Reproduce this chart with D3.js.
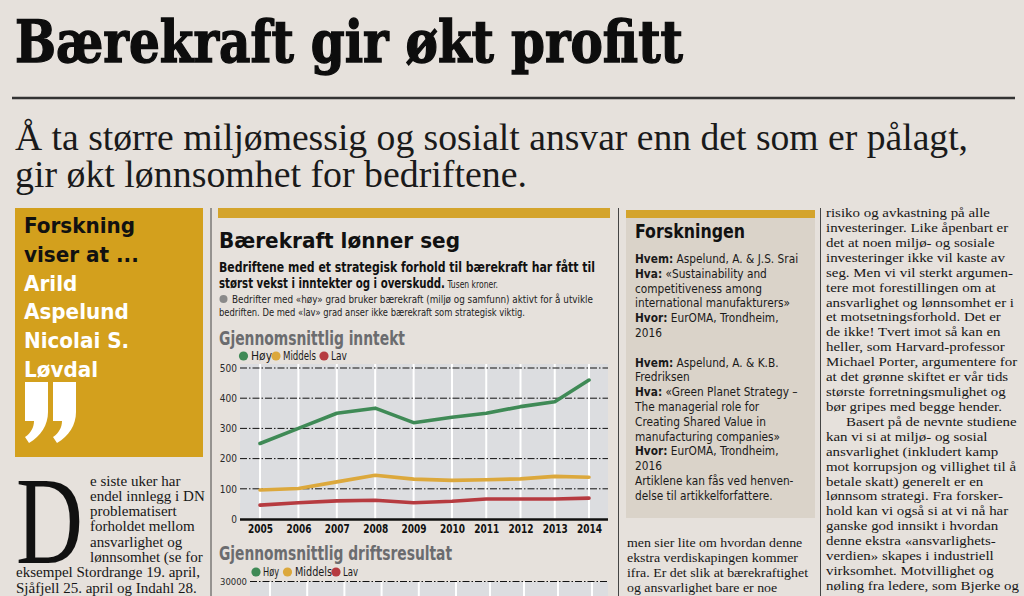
<!DOCTYPE html>
<html><head><meta charset="utf-8">
<script src="https://cdn.jsdelivr.net/npm/d3@7"></script>
<style>html,body{margin:0;padding:0;background:#e6e1dc;} svg{display:block}</style>
</head><body>
<svg id="c" width="1024" height="596"></svg>
<script>
// ---------- DATA ----------
const years = [2005, 2006, 2007, 2008, 2009, 2010, 2011, 2012, 2013, 2014];
const hoyInntekt     = [250, 300, 350, 367, 319, 337, 350, 372, 388, 460];
const middelsInntekt = [96, 101, 123, 145, 132, 128, 130, 133, 141, 138];
const lavInntekt     = [46, 54, 60, 62, 54, 59, 66, 66, 66, 69];
const inntektTicks = [0, 100, 200, 300, 400, 500];
const driftTicks = [30000];
const seriesNames = ["Høy", "Middels", "Lav"];

// ---------- TEXT ----------
const headline = "Bærekraft gir økt profitt";
const standfirst = ["Å ta større miljømessig og sosialt ansvar enn det som er pålagt,", "gir økt lønnsomhet for bedriftene."];
const boxLines = ["Forskning", "viser at ...", "Arild", "Aspelund", "Nicolai S.", "Løvdal"];
const chartTitle = "Bærekraft lønner seg";
const chartSub = ["Bedriftene med et strategisk forhold til bærekraft har fått til", "størst vekst i inntekter og i overskudd."];
const unitNote = "Tusen kroner.";
const noteLines = ["Bedrifter med «høy» grad bruker bærekraft (miljø og samfunn) aktivt for å utvikle", "bedriften. De med «lav» grad anser ikke bærekraft som strategisk viktig."];
const panel1Title = "Gjennomsnittlig inntekt";
const panel2Title = "Gjennomsnittlig driftsresultat";
const researchTitle = "Forskningen";
const researchLines = [
  "**Hvem:** Aspelund, A. & J.S. Srai",
  "**Hva:** «Sustainability and",
  "competitiveness among",
  "international manufakturers»",
  "**Hvor:** EurOMA, Trondheim,",
  "2016",
  "",
  "**Hvem:** Aspelund, A. & K.B.",
  "Fredriksen",
  "**Hva:** «Green Planet Strategy –",
  "The managerial role for",
  "Creating Shared Value in",
  "manufacturing companies»",
  "**Hvor:** EurOMA, Trondheim,",
  "2016",
  "Artiklene kan fås ved henven-",
  "delse til artikkelforfattere."
];
const dropCap = "D";
const leftDropLines = ["e siste uker har", "endel innlegg i DN", "problematisert", "forholdet mellom", "ansvarlighet og", "lønnsomhet (se for"];
const leftFullLines = ["eksempel Stordrange 19. april,", "Sjåfjell 25. april og Indahl 28."];
const midLines = ["men sier lite om hvordan denne", "ekstra verdiskapingen kommer", "ifra. Er det slik at bærekraftighet", "og ansvarlighet bare er noe"];
const rightLines = [
  "risiko og avkastning på alle",
  "investeringer. Like åpenbart er",
  "det at noen miljø- og sosiale",
  "investeringer ikke vil kaste av",
  "seg. Men vi vil sterkt argumen-",
  "tere mot forestillingen om at",
  "ansvarlighet og lønnsomhet er i",
  "et motsetningsforhold. Det er",
  "de ikke! Tvert imot så kan en",
  "heller, som Harvard-professor",
  "Michael Porter, argumentere for",
  "at det grønne skiftet er vår tids",
  "største forretningsmulighet og",
  "bør gripes med begge hender.",
  "Basert på de nevnte studiene",
  "kan vi si at miljø- og sosial",
  "ansvarlighet (inkludert kamp",
  "mot korrupsjon og villighet til å",
  "betale skatt) generelt er en",
  "lønnsom strategi. Fra forsker-",
  "hold kan vi også si at vi nå har",
  "ganske god innsikt i hvordan",
  "denne ekstra «ansvarlighets-",
  "verdien» skapes i industriell",
  "virksomhet. Motvillighet og",
  "nøling fra ledere, som Bjerke og"
];

// ---------- STYLE ----------
const colors = {Høy: "#3f8a56", Middels: "#dca83c", Lav: "#b63b40"};
const SANS_C = "'DejaVu Sans Condensed', 'DejaVu Sans', sans-serif";
const SERIF = "'Liberation Serif', 'DejaVu Serif', serif";
const SLAB = "'DejaVu Serif', serif";
const ochre = "#d4a42c";

const svg = d3.select("#c");
svg.append("rect").attr("width", 1024).attr("height", 596).attr("fill", "#e6e1dc");

function fit(t, w) { t.attr("textLength", w).attr("lengthAdjust", "spacingAndGlyphs"); return t; }
function addText(g, x, y, str, o) {
  const t = g.append("text").attr("x", x).attr("y", y)
    .attr("font-size", o.size).attr("font-family", o.family)
    .attr("font-weight", o.weight || "normal").attr("fill", o.fill || "#111");
  t.text(str);
  if (o.w) fit(t, o.w);
  return t;
}
// One <text> element holding many lines as tspans.
function richText(g, base, lines) {
  const t = g.append("text").attr("font-family", base.family).attr("font-size", base.size)
    .attr("font-weight", base.weight || "normal").attr("fill", base.fill || "#111")
    .attr("xml:space", "preserve");
  const all = lines.map(L => {
    const parts = [];
    L.str.split(/(\*\*[^*]+\*\*)/).filter(s => s).forEach((p, j) => {
      const bold = p.startsWith("**");
      const s = t.append("tspan").text(bold ? p.slice(2, -2) : p);
      if (j === 0 && !L.cont) s.attr("x", L.x).attr("y", L.y);
      if (L.size) s.attr("font-size", L.size);
      if (L.weight) s.attr("font-weight", L.weight);
      if (bold) s.attr("font-weight", "bold");
      if (L.fill) s.attr("fill", L.fill);
      parts.push(s);
    });
    return parts;
  });
  const nat = all.map(parts => parts.map(s => s.node().getComputedTextLength()));
  let f = 1;
  if (base.ref) f = base.ref.width / d3.sum(nat[base.ref.index]);
  all.forEach((parts, i) => {
    const tot = d3.sum(nat[i]);
    if (!tot) return;
    const ff = lines[i].w ? lines[i].w / tot : f;
    parts.forEach((s, j) => fit(s, nat[i][j] * ff));
  });
  return t;
}

// ---------- HEADER ----------
addText(svg, 15, 62, headline, {size: 58, family: SLAB, weight: "bold", fill: "#0d0d0d", w: 668})
  .attr("stroke", "#0d0d0d").attr("stroke-width", 1.4);
svg.append("line").attr("x1", 12).attr("x2", 1015).attr("y1", 98).attr("y2", 98).attr("stroke", "#333").attr("stroke-width", 2.5);
richText(svg, {family: SERIF, size: 38, fill: "#1a1a1a"}, [
  {x: 15, y: 150, str: standfirst[0], w: 953},
  {x: 15, y: 187, str: standfirst[1], w: 512}
]);

// ---------- SEPARATORS ----------
[211, 618.5, 820.5].forEach(x => svg.append("line").attr("x1", x).attr("x2", x).attr("y1", 208).attr("y2", 596).attr("stroke", "#444").attr("stroke-width", 1));

// ---------- LEFT BOX ----------
svg.append("rect").attr("x", 15).attr("y", 208).attr("width", 188).attr("height", 249).attr("fill", "#d3a01d");
richText(svg, {family: SANS_C, size: 22, weight: "bold", fill: "#111", ref: {index: 0, width: 111}},
  boxLines.map((s, i) => ({x: 24, y: 233 + i * 28.8, str: s, fill: i < 2 ? "#111" : "#fff"})));
[25, 53].forEach(x0 => {
  svg.append("path").attr("fill", "#fff")
    .attr("d", `M${x0},382 h23 v30 c0,13 -7,24 -19,31 l-4,-6 c6,-4 9,-10 9,-16 h-9 z`);
});

// ---------- LEFT BODY ----------
richText(svg, {family: SERIF, size: 13.6, fill: "#161616", ref: {index: 7, width: 184}},
  [{x: 16, y: 563, str: dropCap, size: 125, fill: "#111", w: 67}].concat(
    leftDropLines.concat(leftFullLines).map((s, i) => ({x: i < 6 ? 90 : 16, y: 485.5 + i * 15.3, str: s}))));

// ---------- CHART COLUMN ----------
svg.append("rect").attr("x", 218).attr("y", 208).attr("width", 392).attr("height", 10).attr("fill", ochre);
addText(svg, 219, 248, chartTitle, {size: 22, family: SANS_C, weight: "bold", fill: "#111", w: 241});
svg.append("circle").attr("cx", 223.5).attr("cy", 299).attr("r", 4).attr("fill", "#8a8a8a");
richText(svg, {family: SANS_C, size: 13.5, weight: "bold", fill: "#111"}, [
  {x: 219, y: 272, str: chartSub[0], w: 376},
  {x: 219, y: 288, str: chartSub[1], w: 226},
  {cont: true, str: " " + unitNote, size: 10, weight: "normal", fill: "#222", w: 53},
  {x: 232, y: 303, str: noteLines[0], size: 10.5, weight: "normal", fill: "#222", w: 361},
  {x: 219, y: 315.5, str: noteLines[1], size: 10.5, weight: "normal", fill: "#222", w: 306}
]);

function legend(cx, cy, textX, widths) {
  seriesNames.forEach((n, i) => {
    svg.append("circle").attr("cx", cx[i]).attr("cy", cy).attr("r", 4.6).attr("fill", colors[n]);
    addText(svg, textX[i], cy + 4, n, {size: 12, family: SANS_C, fill: "#1a1a1a", w: widths[i]});
  });
}

// Panel 1
addText(svg, 219, 345, panel1Title, {size: 19, family: SANS_C, weight: "bold", fill: "#6b6c6f", w: 186});
legend([243.5, 276, 324], 356, [251, 283, 331], [21, 33, 16]);

const x1 = d3.scaleLinear().domain([2005, 2010, 2014]).range([260, 452, 589]);
const y1 = d3.scaleLinear().domain([0, 500]).range([519, 368]);
const p1 = svg.append("g");
p1.append("rect").attr("x", 240).attr("y", 364).attr("width", 368).attr("height", 155).attr("fill", "#dcdde0");
p1.selectAll("line.v").data(years).join("line").attr("class", "v")
  .attr("x1", d => x1(d)).attr("x2", d => x1(d)).attr("y1", 364).attr("y2", 519)
  .attr("stroke", "#fff").attr("stroke-width", 2);
p1.selectAll("line.h").data(inntektTicks.filter(t => t > 0)).join("line").attr("class", "h")
  .attr("x1", 240).attr("x2", 608).attr("y1", d => y1(d)).attr("y2", d => y1(d))
  .attr("stroke", "#111").attr("stroke-width", 1).attr("stroke-dasharray", "7,2,1.5,2");
const yAx = p1.append("g").attr("transform", "translate(238,0)")
  .call(d3.axisLeft(y1).tickValues(inntektTicks).tickSize(0).tickPadding(1));
yAx.select(".domain").remove();
yAx.selectAll("text").attr("font-size", 10).attr("font-family", SANS_C).attr("fill", "#2a2a2a");
const xAx = p1.append("g").attr("transform", "translate(0,519)")
  .call(d3.axisBottom(x1).tickValues(years).tickFormat(d3.format("d")).tickSize(0).tickPadding(5));
xAx.select(".domain").remove();
xAx.selectAll("text").attr("font-size", 12).attr("font-weight", "bold").attr("font-family", SANS_C)
  .attr("fill", "#111").attr("textLength", 25).attr("lengthAdjust", "spacingAndGlyphs");
p1.append("line").attr("x1", 240).attr("x2", 608).attr("y1", 519.5).attr("y2", 519.5).attr("stroke", "#111").attr("stroke-width", 2.5);

const lineGen = d3.line().x((d, i) => x1(years[i])).y(d => y1(d));
[[hoyInntekt, "Høy"], [middelsInntekt, "Middels"], [lavInntekt, "Lav"]].forEach(([vals, n]) => {
  p1.append("path").datum(vals).attr("d", lineGen).attr("fill", "none")
    .attr("stroke", colors[n]).attr("stroke-width", 3.6).attr("stroke-linejoin", "round").attr("stroke-linecap", "round");
});

// Panel 2
addText(svg, 219, 560, panel2Title, {size: 19, family: SANS_C, weight: "bold", fill: "#6b6c6f", w: 233});
legend([256, 287.5, 336], 572, [263, 295, 343], [16, 37, 15]);
const x2 = d3.scaleLinear().domain([2005, 2010, 2014]).range([270, 456, 592]);
const y2 = d3.scaleLinear().domain([0, 30000]).range([733, 581.5]);
const p2 = svg.append("g");
p2.append("rect").attr("x", 250).attr("y", 582).attr("width", 358).attr("height", 20).attr("fill", "#dcdde0");
p2.selectAll("line.v").data(years).join("line").attr("class", "v")
  .attr("x1", d => x2(d)).attr("x2", d => x2(d)).attr("y1", 582).attr("y2", 600)
  .attr("stroke", "#fff").attr("stroke-width", 2);
p2.selectAll("line.h").data(driftTicks).join("line").attr("class", "h")
  .attr("x1", 250).attr("x2", 608).attr("y1", d => y2(d)).attr("y2", d => y2(d))
  .attr("stroke", "#111").attr("stroke-width", 1).attr("stroke-dasharray", "7,2,1.5,2");
const y2Ax = p2.append("g").attr("transform", "translate(248,0)")
  .call(d3.axisLeft(y2).tickValues(driftTicks).tickFormat(d3.format("d")).tickSize(0).tickPadding(1));
y2Ax.select(".domain").remove();
y2Ax.selectAll("text").attr("font-size", 9.5).attr("font-family", SANS_C).attr("fill", "#2a2a2a")
  .attr("textLength", 27).attr("lengthAdjust", "spacingAndGlyphs");

// ---------- RESEARCH BOX ----------
svg.append("rect").attr("x", 626).attr("y", 218).attr("width", 189).attr("height", 300).attr("fill", "#dad3c9");
svg.append("rect").attr("x", 626).attr("y", 210).attr("width", 189).attr("height", 8).attr("fill", ochre);
addText(svg, 635, 238, researchTitle, {size: 20, family: SANS_C, weight: "bold", fill: "#111", w: 110});
richText(svg, {family: SANS_C, size: 12.5, fill: "#1a1a1a", ref: {index: 3, width: 155}},
  researchLines.map((s, i) => ({x: 635, y: 263 + i * 14.8, str: s})).filter(d => d.str));

// ---------- MIDDLE BODY ----------
richText(svg, {family: SERIF, size: 13.4, fill: "#161616", ref: {index: 2, width: 181}},
  midLines.map((s, i) => ({x: 627, y: 547 + i * 14.9, str: s})));

// ---------- RIGHT BODY ----------
richText(svg, {family: SERIF, size: 13.4, fill: "#161616", ref: {index: 6, width: 188}},
  rightLines.map((s, i) => ({x: i === 14 ? 846 : 826, y: 217 + i * 14.92, str: s})));
</script>
</body></html>
